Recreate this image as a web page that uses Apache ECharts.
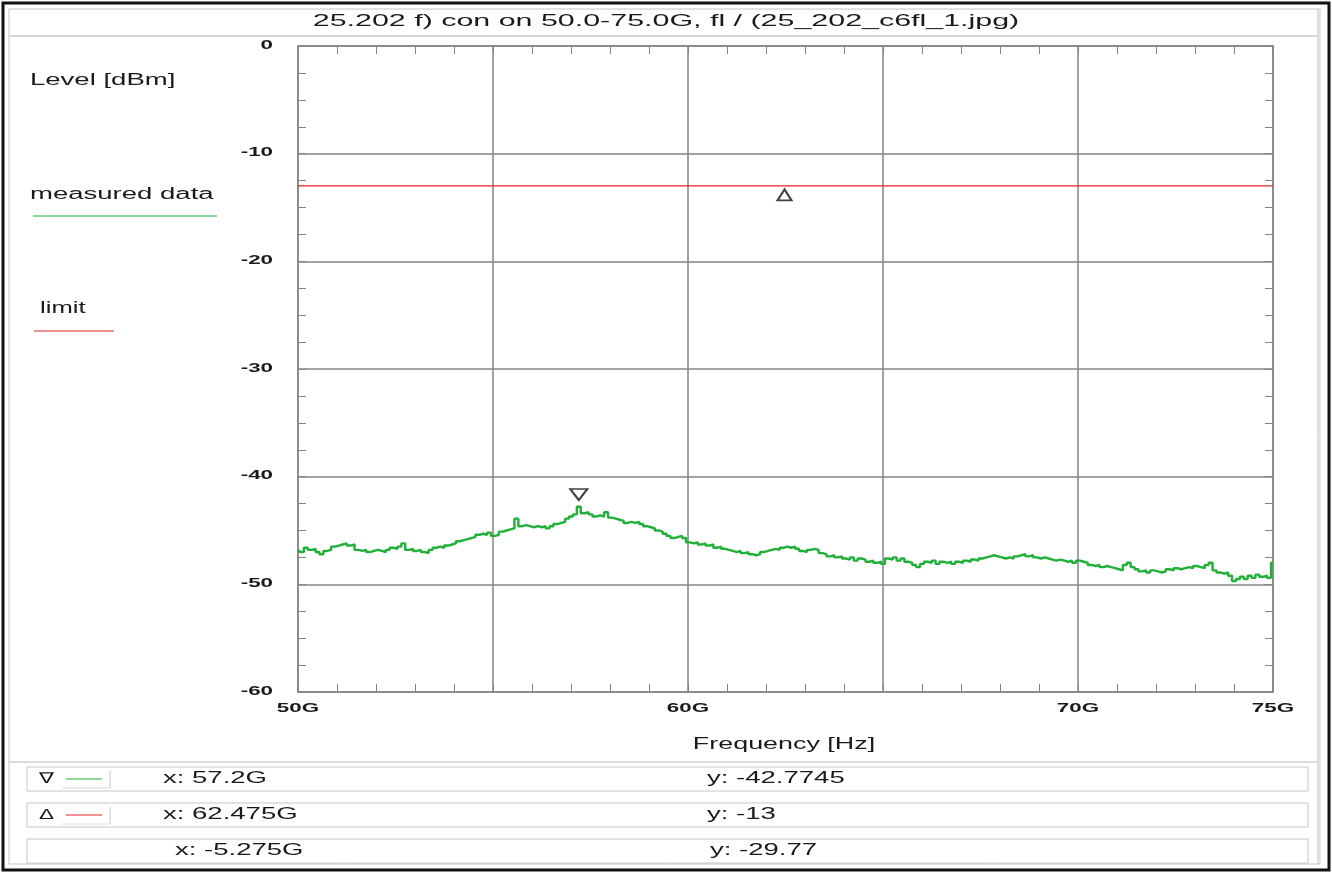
<!DOCTYPE html>
<html>
<head>
<meta charset="utf-8">
<title>25.202 f) con on 50.0-75.0G</title>
<script src="https://cdn.jsdelivr.net/npm/echarts@6/dist/echarts.min.js"></script>
<style>
  html, body { margin: 0; padding: 0; background: #fff; }
  #chart { width: 1332px; height: 873px; }
</style>
</head>
<body>
<div id="chart"></div>
<script>
// Sweep 50.0 .. 75.0 GHz, one reading every 0.1 GHz (levels).
const FREQ_START = 50;
const FREQ_STEP = 0.1;
const levels = [
  -46.8, -47.0, -46.6, -46.8, -46.7, -47.0, -47.2, -46.9, -46.8, -46.5,
  -46.4, -46.3, -46.2, -46.4, -46.3, -46.8, -46.9, -46.8, -47.0, -46.9,
  -46.8, -46.9, -47.0, -46.8, -46.6, -46.7, -46.5, -46.2, -46.8, -46.7,
  -46.9, -46.8, -47.0, -47.1, -46.8, -46.6, -46.5, -46.6, -46.4, -46.3,
  -46.2, -46.0, -45.9, -45.8, -45.7, -45.6, -45.4, -45.3, -45.4, -45.2,
  -45.5, -45.4, -45.1, -45.0, -44.9, -44.8, -43.9, -44.6, -44.5, -44.6,
  -44.7, -44.6, -44.7, -44.6, -44.8, -44.6, -44.4, -44.3, -44.2, -43.9,
  -43.7, -43.5, -42.8, -43.4, -43.3, -43.5, -43.7, -43.6, -43.7, -43.3,
  -43.8, -43.9, -44.0, -44.1, -44.3, -44.2, -44.3, -44.2, -44.4, -44.6,
  -44.7, -44.8, -45.0, -45.1, -45.3, -45.5, -45.7, -45.6, -45.5, -45.7,
  -46.1, -46.2, -46.1, -46.3, -46.2, -46.4, -46.3, -46.6, -46.5, -46.7,
  -46.8, -46.9, -47.0, -46.9, -47.1, -47.0, -47.2, -47.3, -47.2, -47.0,
  -46.9, -46.8, -46.7, -46.8, -46.6, -46.5, -46.6, -46.5, -46.7, -46.9,
  -47.0, -46.8, -46.7, -46.8, -47.1, -47.2, -47.4, -47.3, -47.5, -47.4,
  -47.6, -47.7, -47.5, -47.8, -47.6, -47.7, -47.9, -47.8, -48.0, -47.9,
  -48.1, -47.6, -47.7, -47.5, -47.8, -47.6, -47.9, -48.0, -48.2, -48.4,
  -48.1, -47.9, -48.0, -47.8, -48.1, -47.9, -48.0, -47.9, -48.1, -47.9,
  -48.0, -47.8, -47.9, -47.7, -47.8, -47.6, -47.5, -47.4, -47.3, -47.4,
  -47.5, -47.6, -47.5, -47.6, -47.4, -47.3, -47.2, -47.4, -47.3, -47.5,
  -47.6, -47.5, -47.6, -47.7, -47.8, -47.7, -47.8, -47.9, -47.8, -48.0,
  -47.8, -47.9, -48.0, -48.2, -48.3, -48.2, -48.4, -48.3, -48.4, -48.5,
  -48.6, -48.7, -48.2, -48.0, -48.4, -48.6, -48.8, -48.7, -48.9, -48.7,
  -48.8, -48.9, -48.8, -48.6, -48.7, -48.5, -48.6, -48.5, -48.4, -48.5,
  -48.3, -48.4, -48.5, -48.2, -48.0, -48.7, -48.9, -49.0, -48.9, -49.2,
  -49.7, -49.5, -49.3, -49.5, -49.2, -49.4, -49.1, -49.3, -49.2, -49.4,
  -48.0
];

const limitFreq = [50, 75];
const limitLevel = [-13, -13];

// markers: ∇ on the trace peak, Δ on the limit line
const markerFreq = [57.2, 62.475];
const markerLevel = [-42.7745, -13];

const xTickLabels = [50, 60, 70, 75];            // 55G / 65G gridlines carry no label
const yTickLabels = [0, -10, -20, -30, -40, -50, -60];

const readoutX = ['x: 57.2G', 'x: 62.475G', 'x: -5.275G'];
const readoutY = ['y: -42.7745', 'y: -13', 'y: -29.77'];

const GREEN = '#20b038';
const RED = '#e02626';
const GRIDC = '#858585';
const FONT = '"Liberation Sans", Arial, sans-serif';
// the source screenshot is stretched sideways, so every text is widened
const STRETCH = 1.72;

const trace = levels.map((v, i) => [+(FREQ_START + i * FREQ_STEP).toFixed(1), v]);

const frameAxis = {
  axisLine: { show: true, onZero: false, lineStyle: { color: GRIDC, width: 1.5 } },
  axisTick: { show: true, inside: true, length: 8, lineStyle: { color: GRIDC } },
  minorTick: { show: true, length: 8, lineStyle: { color: GRIDC, width: 1 } },
  axisLabel: { show: false },
};

function xAxis(pos, main) {
  return {
    type: 'value', position: pos, min: 50, max: 75, interval: 5,
    ...frameAxis,
    minorTick: { ...frameAxis.minorTick, splitNumber: 5 },
    splitLine: { show: main, lineStyle: { color: GRIDC, width: 1.5 } },
  };
}

function yAxis(pos, main) {
  return {
    type: 'value', position: pos, min: -60, max: 0, interval: 10,
    ...frameAxis,
    minorTick: { ...frameAxis.minorTick, splitNumber: 4 },
    splitLine: { show: main, lineStyle: { color: GRIDC, width: 1.5 } },
  };
}

const chart = echarts.init(document.getElementById('chart'), null, { renderer: 'canvas' });
chart.setOption({
  animation: false,
  backgroundColor: '#fff',
  grid: { left: 298, top: 46, width: 975, height: 646 },
  xAxis: [xAxis('bottom', true), xAxis('top', false)],
  yAxis: [yAxis('left', true), yAxis('right', false)],
  series: [
    {
      name: 'measured data', type: 'line', data: trace, showSymbol: false, step: 'middle',
      lineStyle: { color: GREEN, width: 2.4 }, z: 3,
    },
    {
      name: 'limit', type: 'line', data: limitFreq.map((f, i) => [f, limitLevel[i]]), showSymbol: false,
      lineStyle: { color: RED, width: 1.2 }, z: 2,
    },
    {
      name: 'markers', type: 'scatter', z: 4,
      symbol: 'emptyTriangle',
      itemStyle: { color: '#111', borderWidth: 1.6 },
      data: markerFreq.map((f, i) => ({
        value: [f, markerLevel[i]],
        symbolRotate: i === 0 ? 180 : 0,
        symbolSize: i === 0 ? [17, 11] : [14, 11],
        symbolOffset: i === 0 ? [0, -12] : [0, 9],
      })),
    },
  ],
});

const text = (str, x, y, extra, sx) => ({
  type: 'text', x, y, scaleX: sx || STRETCH,
  style: { text: str, fill: '#1a1a1a', font: `16px ${FONT}`, textVerticalAlign: 'middle', ...extra },
});
const hline = (x1, x2, y, stroke, w) => ({
  type: 'line', shape: { x1, y1: y, x2, y2: y }, style: { stroke, lineWidth: w || 1 },
});
const vline = (x, y1, y2, stroke) => ({
  type: 'line', shape: { x1: x, y1, x2: x, y2 }, style: { stroke, lineWidth: 1 },
});

const graphics = [
  { type: 'rect', shape: { x: 3, y: 3, width: 1326, height: 867 }, style: { fill: 'none', stroke: '#111', lineWidth: 3 } },
  { type: 'rect', shape: { x: 9, y: 9, width: 1311, height: 855 }, style: { fill: 'none', stroke: '#c4c4c4', lineWidth: 1 } },
  vline(1318, 9, 864, '#bdbdbd'),
  hline(9, 1318, 36, '#c8c8c8', 1.5),
  hline(9, 1318, 762, '#d0d0d0', 1.5),
  text('25.202 f) con on 50.0-75.0G, fl / (25_202_c6fl_1.jpg)', 666, 22, { textAlign: 'center' }, 1.9),
  text('Level [dBm]', 30, 81),
  text('measured data', 30, 195),
  hline(33, 217, 216, GREEN, 1),
  text('limit', 40, 309, null, 1.6),
  hline(34, 114, 331, RED, 1),
];

// tick labels placed through the axis scales
const bold = { font: `bold 13px ${FONT}` };
xTickLabels.forEach((v) => {
  const px = chart.convertToPixel({ xAxisIndex: 0 }, v);
  graphics.push(text(`${v}G`, px, 708, { ...bold, textAlign: 'center' }));
});
yTickLabels.forEach((v) => {
  const py = chart.convertToPixel({ yAxisIndex: 0 }, v);
  graphics.push(text(`${v}`, 273, py - 1, { ...bold, textAlign: 'right' }));
});
graphics.push(text('Frequency [Hz]', 784, 745, { textAlign: 'center' }, 1.68));

const rowIcons = [['\u2207', GREEN], ['\u0394', RED]];
for (let i = 0; i < 3; i++) {
  const top = 767 + i * 36;
  const mid = top + 12;
  graphics.push({ type: 'rect', shape: { x: 27, y: top, width: 1281, height: 24 }, style: { fill: '#fff', stroke: '#c6c6c6', lineWidth: 1 } });
  if (rowIcons[i]) {
    graphics.push(text(rowIcons[i][0], 39, mid, { font: `15px ${FONT}` }, 1.5));
    graphics.push(hline(66, 102, mid, rowIcons[i][1], 1));
    graphics.push(hline(62, 110, top + 21, '#dcdcdc', 1));
    graphics.push(vline(110, top + 4, top + 21, '#c6c6c6'));
  }
  graphics.push(text(readoutX[i], i === 2 ? 175 : 163, mid));
  graphics.push(text(readoutY[i], i === 2 ? 710 : 707, mid));
}

chart.setOption({ graphic: graphics });
</script>
</body>
</html>
